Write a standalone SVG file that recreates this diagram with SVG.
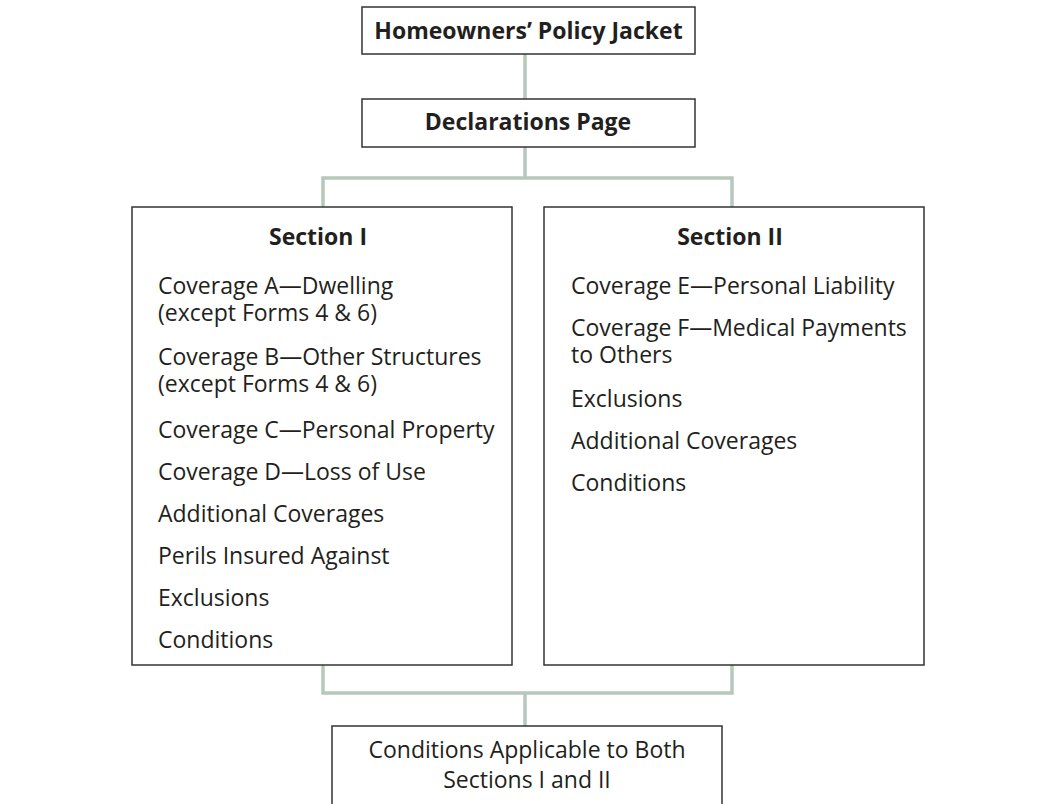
<svg xmlns="http://www.w3.org/2000/svg" width="1050" height="804" viewBox="0 0 1050 804">
<style>
.box{fill:#fff;stroke:#333;stroke-width:1.5}
.con{fill:none;stroke:#b5c8ba;stroke-width:3.5}
text{font-family:"Open Sans","Noto Sans","Liberation Sans",sans-serif;fill:#231f20;font-size:23px}
.b{font-weight:bold;font-size:23px}
.c{text-anchor:middle}
</style>
<rect width="1050" height="804" fill="#fff"/>
<g id="connectors">
<path class="con" d="M525 54V99"/>
<path class="con" d="M525 147V178M323 207V178H732V207"/>
<path class="con" d="M323 665V693H732V665M525 693V726"/>
</g>
<g id="jacket">
<rect class="box" x="362" y="7" width="333" height="47"/>
<text class="b c" x="528.5" y="39">Homeowners’ Policy Jacket</text>
</g>
<g id="declarations">
<rect class="box" x="362" y="99" width="333" height="48"/>
<text class="b c" x="528" y="130">Declarations Page</text>
</g>
<g id="section1">
<rect class="box" x="132" y="207" width="380" height="458"/>
<text class="b c" x="318" y="245">Section I</text>
<text x="158" y="294">Coverage A—Dwelling<tspan x="158" dy="27">(except Forms 4 &amp; 6)</tspan></text>
<text x="158" y="365">Coverage B—Other Structures<tspan x="158" dy="27">(except Forms 4 &amp; 6)</tspan></text>
<text x="158" y="438">Coverage C—Personal Property</text>
<text x="158" y="480">Coverage D—Loss of Use</text>
<text x="158" y="522">Additional Coverages</text>
<text x="158" y="564">Perils Insured Against</text>
<text x="158" y="606">Exclusions</text>
<text x="158" y="648">Conditions</text>
</g>
<g id="section2">
<rect class="box" x="544" y="207" width="380" height="458"/>
<text class="b c" x="730" y="245">Section II</text>
<text x="571" y="294">Coverage E—Personal Liability</text>
<text x="571" y="336">Coverage F—Medical Payments<tspan x="571" dy="27">to Others</tspan></text>
<text x="571" y="407">Exclusions</text>
<text x="571" y="449">Additional Coverages</text>
<text x="571" y="491">Conditions</text>
</g>
<g id="conditions-both">
<rect class="box" x="332" y="726" width="390" height="110"/>
<text class="c" x="527" y="758">Conditions Applicable to Both<tspan x="527" dy="30">Sections I and II</tspan></text>
</g>
</svg>
